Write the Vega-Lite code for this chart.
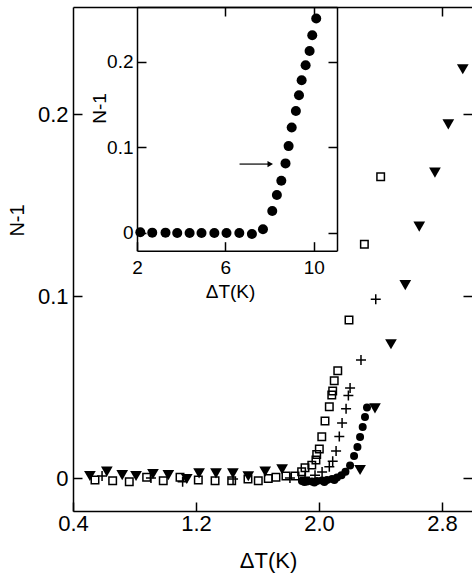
{
"$schema": "https://vega.github.io/schema/vega-lite/v6.json",
"width": 399, "height": 504,
"autosize": {"type": "none"},
"padding": {"left": 73, "top": 7, "right": 0, "bottom": 62},
"background": "white",
"config": {
  "view": {"stroke": null},
  "axis": {"grid": false, "domainColor": "black", "domainWidth": 1.5, "tickColor": "black", "tickWidth": 1.5, "tickSize": -9,
    "labelColor": "black", "titleColor": "black", "labelFont": "Liberation Sans", "titleFont": "Liberation Sans",
    "titleFontWeight": "normal", "labelFlush": false, "labelOverlap": false}
},
"layer": [
  {
    "layer": [
      {
        "data": {"values": [
          {"x": 0.51, "y": 0.0011}, {"x": 0.62, "y": 0.0035}, {"x": 0.72, "y": 0.0016}, {"x": 0.81, "y": 0.0011},
          {"x": 0.92, "y": 0.0022}, {"x": 1.02, "y": 0.0016}, {"x": 1.14, "y": -0.0005}, {"x": 1.22, "y": 0.0026},
          {"x": 1.33, "y": 0.0026}, {"x": 1.44, "y": 0.0026}, {"x": 1.54, "y": 0.0010}, {"x": 1.65, "y": 0.0035},
          {"x": 1.76, "y": 0.0048}, {"x": 2.267, "y": 0.0044}, {"x": 2.364, "y": 0.0383}, {"x": 2.468, "y": 0.0735},
          {"x": 2.561, "y": 0.106}, {"x": 2.652, "y": 0.1381}, {"x": 2.754, "y": 0.1678}, {"x": 2.841, "y": 0.1943},
          {"x": 2.935, "y": 0.2246}
        ]},
        "mark": {"type": "point", "shape": "triangle-down", "filled": true, "color": "black", "size": 137, "opacity": 1},
        "encoding": {
          "x": {"field": "x", "type": "quantitative", "scale": {"domain": [0.4, 2.995], "nice": false, "zero": false},
            "axis": {"orient": "bottom", "values": [0.4, 1.2, 2.0, 2.8], "format": ".1f", "labelFontSize": 22, "labelPadding": 11,
              "title": "ΔT(K)", "titleFontSize": 22, "titleX": 195, "titleY": 39, "titleBaseline": "top"}},
          "y": {"field": "y", "type": "quantitative", "scale": {"domain": [-0.0181, 0.2588], "nice": false, "zero": false},
            "axis": {"orient": "left", "values": [0, 0.1, 0.2], "format": "~g", "labelFontSize": 22, "labelPadding": 14,
              "title": "N-1", "titleFontSize": 20, "titleX": -56, "titleY": 213, "titleBaseline": "middle"}}
        }
      },
      {
        "data": {"values": [
          {"x": 0.543, "y": -0.0011}, {"x": 0.658, "y": -0.0015}, {"x": 0.766, "y": -0.002}, {"x": 0.879, "y": 0.0004},
          {"x": 0.987, "y": -0.0015}, {"x": 1.096, "y": 0.0004}, {"x": 1.215, "y": -0.0011}, {"x": 1.324, "y": -0.0015},
          {"x": 1.432, "y": -0.0015}, {"x": 1.538, "y": -0.0005}, {"x": 1.605, "y": -0.0015}, {"x": 1.670, "y": -0.0002},
          {"x": 1.720, "y": 0.0004}, {"x": 1.785, "y": 0.0011}, {"x": 1.844, "y": 0.0011}, {"x": 1.887, "y": 0.0035},
          {"x": 1.909, "y": 0.0057}, {"x": 1.953, "y": 0.0071}, {"x": 1.980, "y": 0.0099}, {"x": 1.985, "y": 0.013},
          {"x": 2.002, "y": 0.0159}, {"x": 2.018, "y": 0.0227}, {"x": 2.039, "y": 0.0313}, {"x": 2.067, "y": 0.0392},
          {"x": 2.083, "y": 0.0456}, {"x": 2.089, "y": 0.0478}, {"x": 2.099, "y": 0.0535}, {"x": 2.122, "y": 0.059},
          {"x": 2.195, "y": 0.0868}, {"x": 2.295, "y": 0.1284}, {"x": 2.401, "y": 0.1655}
        ]},
        "mark": {"type": "point", "shape": "square", "filled": false, "stroke": "black", "strokeWidth": 1.5, "size": 56, "opacity": 1},
        "encoding": {
          "x": {"field": "x", "type": "quantitative", "scale": {"domain": [0.4, 2.995], "nice": false, "zero": false},
            "axis": {"orient": "top", "values": [2.8], "labels": false, "title": null}},
          "y": {"field": "y", "type": "quantitative", "scale": {"domain": [-0.0181, 0.2588], "nice": false, "zero": false},
            "axis": {"orient": "right", "values": [0, 0.1, 0.2], "labels": false, "title": null, "domain": false}}
        }
      },
      {
        "data": {"values": [
          {"x": 0.589, "y": 0.0011}, {"x": 0.907, "y": 0}, {"x": 1.113, "y": -0.002}, {"x": 1.441, "y": -0.0005},
          {"x": 1.811, "y": 0}, {"x": 1.909, "y": 0.0005}, {"x": 1.974, "y": 0.0016}, {"x": 2.020, "y": 0.0033},
          {"x": 2.067, "y": 0.0062}, {"x": 2.089, "y": 0.0093}, {"x": 2.111, "y": 0.0148}, {"x": 2.132, "y": 0.0228},
          {"x": 2.150, "y": 0.0302}, {"x": 2.176, "y": 0.0381}, {"x": 2.191, "y": 0.0454}, {"x": 2.202, "y": 0.0495},
          {"x": 2.273, "y": 0.0648}, {"x": 2.369, "y": 0.0982}
        ]},
        "mark": {"type": "point", "shape": "M-1,0L1,0M0,-1L0,1", "filled": false, "stroke": "black", "strokeWidth": 1.5, "size": 100, "opacity": 1},
        "encoding": {
          "x": {"field": "x", "type": "quantitative", "scale": {"domain": [0.4, 2.995], "nice": false, "zero": false}, "axis": null},
          "y": {"field": "y", "type": "quantitative", "scale": {"domain": [-0.0181, 0.2588], "nice": false, "zero": false}, "axis": null}
        }
      },
      {
        "data": {"values": [
          {"x": 1.889, "y": -0.0016}, {"x": 1.905, "y": -0.0022}, {"x": 1.922, "y": -0.0019}, {"x": 1.954, "y": -0.0019},
          {"x": 1.970, "y": -0.0024}, {"x": 1.987, "y": -0.0016}, {"x": 2.019, "y": -0.0014}, {"x": 2.035, "y": -0.0021},
          {"x": 2.052, "y": -0.0011}, {"x": 2.085, "y": -0.0005}, {"x": 2.100, "y": -0.001}, {"x": 2.117, "y": 0.0003},
          {"x": 2.146, "y": 0.0016}, {"x": 2.172, "y": 0.0035}, {"x": 2.202, "y": 0.0069}, {"x": 2.228, "y": 0.0121},
          {"x": 2.250, "y": 0.017}, {"x": 2.267, "y": 0.0225}, {"x": 2.284, "y": 0.028}, {"x": 2.299, "y": 0.0335},
          {"x": 2.312, "y": 0.0387}
        ]},
        "mark": {"type": "point", "shape": "circle", "filled": true, "color": "black", "size": 64, "opacity": 1},
        "encoding": {
          "x": {"field": "x", "type": "quantitative", "scale": {"domain": [0.4, 2.995], "nice": false, "zero": false}, "axis": null},
          "y": {"field": "y", "type": "quantitative", "scale": {"domain": [-0.0181, 0.2588], "nice": false, "zero": false}, "axis": null}
        }
      }
    ],
    "resolve": {"axis": {"x": "independent", "y": "independent"}}
  },
  {
    "layer": [
      {
        "data": {"values": [
          {"x": 2.15, "y": 0.0008}, {"x": 2.69, "y": 0.0004}, {"x": 3.29, "y": 0.0004}, {"x": 3.82, "y": 0},
          {"x": 4.38, "y": 0}, {"x": 4.92, "y": 0}, {"x": 5.50, "y": 0}, {"x": 6.05, "y": 0}, {"x": 6.63, "y": 0},
          {"x": 7.20, "y": -0.0012}, {"x": 7.70, "y": 0.0043}, {"x": 8.12, "y": 0.0257}, {"x": 8.33, "y": 0.0443},
          {"x": 8.53, "y": 0.061}, {"x": 8.72, "y": 0.0813}, {"x": 8.86, "y": 0.1015}, {"x": 9.00, "y": 0.1233},
          {"x": 9.19, "y": 0.1424}, {"x": 9.33, "y": 0.161}, {"x": 9.45, "y": 0.1785}, {"x": 9.63, "y": 0.196},
          {"x": 9.81, "y": 0.2127}, {"x": 9.93, "y": 0.231}, {"x": 10.11, "y": 0.2505}
        ]},
        "mark": {"type": "point", "shape": "circle", "filled": true, "color": "black", "size": 100, "opacity": 1},
        "encoding": {
          "x": {"field": "x", "type": "quantitative", "scale": {"domain": [2, 11.05], "range": [64, 264], "nice": false, "zero": false},
            "axis": {"orient": "bottom", "offset": -260.3, "values": [2, 6, 10], "labelFontSize": 19, "labelPadding": 17,
              "title": "ΔT(K)", "titleFontSize": 19, "titleX": 157, "titleY": 32, "titleBaseline": "top"}},
          "y": {"field": "y", "type": "quantitative", "scale": {"domain": [-0.0207, 0.264], "range": [243.7, 0], "nice": false, "zero": false},
            "axis": {"orient": "left", "offset": -64, "values": [0, 0.1, 0.2], "format": "~g", "labelFontSize": 19, "labelPadding": 13,
              "title": "N-1", "titleFontSize": 19, "titleX": -38, "titleY": 101, "titleBaseline": "middle"}}
        }
      },
      {
        "data": {"values": [{"x1": 6.64, "x2": 8.0, "y": 0.0805}]},
        "mark": {"type": "rule", "color": "black", "strokeWidth": 1.2},
        "encoding": {
          "x": {"field": "x1", "type": "quantitative", "scale": {"domain": [2, 11.05], "range": [64, 264], "nice": false, "zero": false},
            "axis": {"orient": "top", "values": [6, 10], "labels": false, "title": null}},
          "x2": {"field": "x2"},
          "y": {"field": "y", "type": "quantitative", "scale": {"domain": [-0.0207, 0.264], "range": [243.7, 0], "nice": false, "zero": false},
            "axis": {"orient": "right", "offset": -135, "values": [0, 0.1, 0.2], "labels": false, "title": null}}
        }
      },
      {
        "data": {"values": [{"x": 8.03, "y": 0.0805}]},
        "mark": {"type": "point", "shape": "triangle-right", "filled": true, "color": "black", "size": 40, "opacity": 1},
        "encoding": {
          "x": {"field": "x", "type": "quantitative", "scale": {"domain": [2, 11.05], "range": [64, 264], "nice": false, "zero": false}, "axis": null},
          "y": {"field": "y", "type": "quantitative", "scale": {"domain": [-0.0207, 0.264], "range": [243.7, 0], "nice": false, "zero": false}, "axis": null}
        }
      }
    ],
    "resolve": {"axis": {"x": "independent", "y": "independent"}}
  }
],
"resolve": {"scale": {"x": "independent", "y": "independent"}, "axis": {"x": "independent", "y": "independent"}}
}
